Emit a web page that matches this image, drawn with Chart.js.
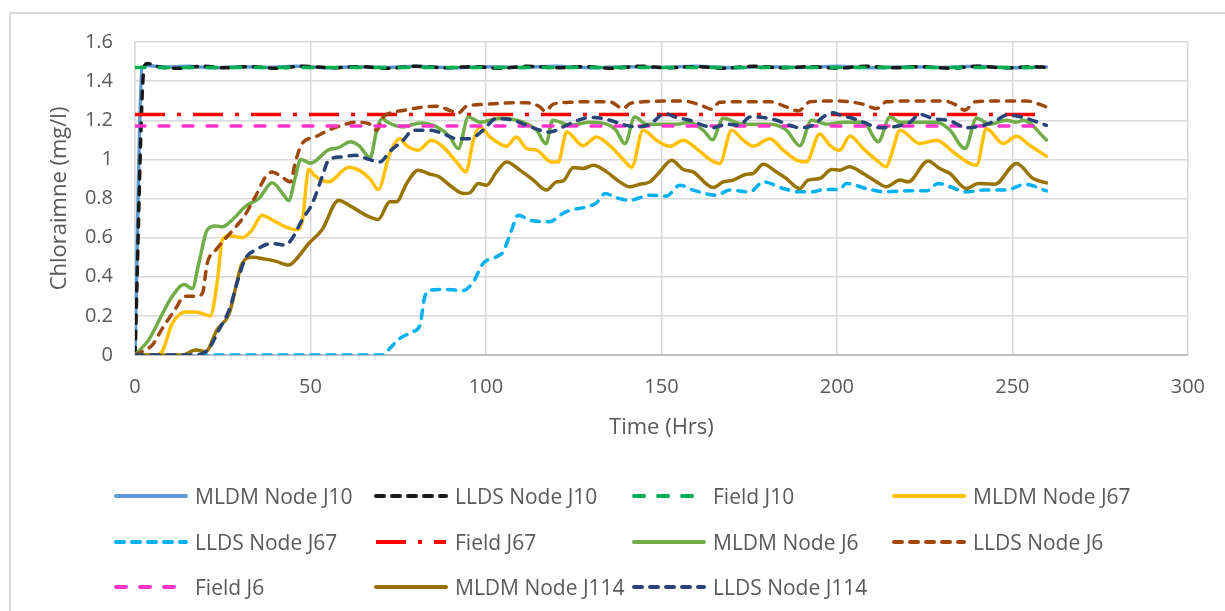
<!DOCTYPE html>
<html><head><meta charset="utf-8">
<script src="https://cdn.jsdelivr.net/npm/chart.js@4.4.1/dist/chart.umd.min.js"></script>
<style>
html,body{margin:0;padding:0;background:#fff;overflow:hidden;}
#wrap{position:relative;width:1225px;height:611px;overflow:hidden;}
#frame{position:absolute;left:9px;top:12px;width:1400px;height:800px;border:2px solid #d9d9d9;box-sizing:border-box;}
#c{position:absolute;left:0;top:0;}
#legend{position:absolute;left:0;top:0;width:1225px;height:611px;font-family:'Open Sans',sans-serif;font-size:21px;color:#595959;}
.item{position:absolute;height:30px;display:flex;align-items:center;white-space:nowrap;}
.item svg{margin-right:7px;}
</style></head>
<body>
<div id="wrap">
<div id="frame"></div>
<canvas id="c" width="1225" height="611"></canvas>
<div id="legend"></div>
</div>
<script>
// ---- data ----
const seriesNames = ['MLDM Node J10','LLDS Node J10','Field J10','MLDM Node J67','LLDS Node J67','Field J67','MLDM Node J6','LLDS Node J6','Field J6','MLDM Node J114','LLDS Node J114'];
const xTickLabels = ['0','50','100','150','200','250','300'];
const yTickLabels = ['0','0.2','0.4','0.6','0.8','1','1.2','1.4','1.6'];

const tMldmJ10 = [0,2,3.5,8,15,22,30,38,46,55,63,72,80,90,100,110,120,130,140,150,160,170,180,190,200,210,220,230,240,250,259.7];
const mldmJ10  = [0,1.47,1.48,1.472,1.476,1.468,1.474,1.47,1.476,1.468,1.474,1.47,1.476,1.468,1.474,1.47,1.476,1.468,1.474,1.47,1.476,1.468,1.474,1.47,1.476,1.468,1.474,1.47,1.476,1.468,1.472];
const tLldsJ10 = [0,2.6,3.5,7,13,19,26,33,40,48,56,64,72,80,88,96,104,112,120,128,136,144,152,160,168,176,184,192,200,208,216,224,232,240,248,256,259.7];
const lldsJ10  = [0,1.47,1.49,1.472,1.466,1.476,1.468,1.474,1.466,1.476,1.468,1.474,1.466,1.476,1.468,1.474,1.466,1.476,1.468,1.474,1.466,1.476,1.468,1.474,1.466,1.476,1.468,1.474,1.466,1.476,1.468,1.474,1.466,1.476,1.468,1.474,1.47];
const tField = [0,259.7];
const fieldJ10 = [1.47,1.47];
const fieldJ67 = [1.23,1.23];
const fieldJ6  = [1.17,1.17];

const tMldmJ67 = [0,5.9,7.8,10.6,14.4,17.3,21.5,23.4,24.9,26.8,30.6,33.4,36.2,39.1,42.9,45.7,47.6,49.5,51,55.2,60.9,63.8,67,69.3,72.6,75.5,77.4,80.7,84.5,87.8,91.6,94.3,96.4,98.3,101.1,105.9,108.7,111.6,114.4,118.7,120.6,123,127.7,131.5,135.3,139.1,141.5,144.8,148.6,152.4,156.2,160,163.8,166.6,170,173.3,176.1,180.9,184.7,188.5,191.3,195.1,198,200.8,203.7,207.5,211.3,214.1,215.6,218,223.6,228.4,233.1,237.9,239.8,242.6,247.4,251.2,254.9,259.7];
const mldmJ67  = [0,0,0.02,0.16,0.22,0.22,0.2,0.37,0.59,0.61,0.6,0.64,0.715,0.69,0.655,0.64,0.68,0.95,0.92,0.885,0.96,0.945,0.9,0.846,1.03,1.106,1.07,1.047,1.098,1.064,0.987,0.936,1.098,1.166,1.115,1.067,1.115,1.055,1.047,0.987,0.987,1.14,1.07,1.115,1.07,1.0,0.96,1.149,1.098,1.067,1.098,1.055,1.0,0.979,1.149,1.098,1.067,1.106,1.047,0.996,0.987,1.13,1.072,1.047,1.12,1.055,0.996,0.962,1.03,1.149,1.081,1.098,1.038,0.979,0.97,1.157,1.081,1.118,1.072,1.016];

const tLldsJ67 = [0,70.8,72.6,75.5,79.3,81.2,82.6,84.5,88.8,93.5,96.4,99.2,103,104.9,107.3,109.2,112.5,118.2,121.1,124,128.7,131.5,134,137,141,146.7,151.4,155.2,159,165.7,169.5,175.2,179,184.7,189.4,193.2,196.1,200.8,202.7,208.4,214.1,219.8,225.5,228.9,232.2,236.9,241.7,248.3,253.6,259.7];
const lldsJ67  = [0,0,0.034,0.085,0.12,0.153,0.3,0.332,0.335,0.329,0.374,0.468,0.502,0.528,0.638,0.715,0.689,0.681,0.715,0.74,0.757,0.778,0.826,0.805,0.791,0.817,0.812,0.868,0.843,0.817,0.843,0.834,0.885,0.851,0.834,0.834,0.846,0.846,0.877,0.851,0.834,0.839,0.839,0.877,0.86,0.834,0.843,0.843,0.873,0.839];

const tMldmJ6 = [0,4,7.8,10.6,14,16.3,18.2,20.6,23,24.9,27.7,31.5,35.3,39.1,41.9,43.8,45.7,47.2,50,55.2,58,61.4,63.8,67,69,70.5,72,76.4,81.2,86,89.7,92.1,95,98.3,104,110.6,114.4,117.1,119,124,129.6,134.4,137,139.6,142.4,145.7,154.3,158,162.4,164.5,167.6,173.3,180.9,185.6,189.4,192.8,197,201.8,207.5,211.8,215.1,218,228.4,232.2,236.5,239.8,243.6,248.3,251.2,253.1,259.7];
const mldmJ6  = [0,0.08,0.21,0.3,0.36,0.34,0.47,0.64,0.66,0.655,0.69,0.76,0.8,0.88,0.83,0.79,0.91,1.0,0.98,1.05,1.06,1.09,1.07,1.01,1.16,1.21,1.19,1.166,1.186,1.166,1.115,1.055,1.217,1.19,1.21,1.19,1.15,1.08,1.2,1.175,1.19,1.18,1.15,1.08,1.217,1.18,1.18,1.19,1.14,1.1,1.21,1.18,1.18,1.15,1.07,1.2,1.18,1.19,1.19,1.09,1.217,1.19,1.19,1.15,1.055,1.21,1.18,1.2,1.19,1.2,1.1];

const tLldsJ6 = [0,3,4.9,7.8,11.6,14,17.3,19.2,20.6,23,25.8,28.7,31,34.3,37.2,39.1,41.9,44.3,45.7,47.6,51.4,55.2,59,62.8,66.6,68.9,70.8,72.6,76.4,81.2,86,89.7,92.1,94.5,98.3,103,107.8,111.6,115.4,116.8,119.2,123.9,129.6,135.3,139.1,141,144.8,154.3,158.1,161.9,164.3,166.6,173.3,180.9,185.6,189,192.3,199.9,207.5,211.3,214.1,222.7,230.3,234.1,236.5,239.3,247.4,254,259.7];
const lldsJ6  = [0,0.026,0.05,0.136,0.238,0.3,0.3,0.315,0.47,0.536,0.596,0.655,0.706,0.81,0.91,0.936,0.91,0.885,0.987,1.08,1.115,1.149,1.174,1.19,1.183,1.149,1.217,1.237,1.25,1.265,1.272,1.25,1.237,1.272,1.28,1.285,1.289,1.289,1.268,1.246,1.282,1.292,1.295,1.294,1.26,1.285,1.294,1.299,1.294,1.272,1.256,1.292,1.295,1.295,1.268,1.248,1.294,1.299,1.282,1.26,1.294,1.299,1.299,1.277,1.251,1.294,1.299,1.299,1.268];

const tMldmJ114 = [0,13.5,17.3,20.1,23.4,26.8,30.6,33.4,37.2,40,43.8,45.7,49.5,53.3,58,61.8,65.7,69.3,72.6,74.5,77.4,80.7,84.1,86.4,89.7,93.5,95.4,97.8,100.2,103,105.9,109.7,113.5,117.3,120.1,122,124.9,127.7,130.6,134.4,138.1,141,143.8,146.7,149.5,152.9,156.2,159,164.7,167.6,170.4,174.2,176.1,179,182.8,185.6,189.4,191.8,195.1,198.5,200.8,203.5,207.5,211.3,214.1,218,220.3,226,229.3,232.2,236.9,240.3,245,251.2,255.9,259.7];
const mldmJ114  = [0,0,0.026,0.017,0.13,0.21,0.47,0.5,0.49,0.48,0.46,0.485,0.57,0.64,0.79,0.757,0.715,0.693,0.783,0.783,0.877,0.945,0.924,0.914,0.868,0.826,0.829,0.877,0.868,0.936,0.987,0.945,0.894,0.843,0.885,0.89,0.958,0.953,0.97,0.936,0.885,0.86,0.873,0.885,0.936,0.996,0.948,0.936,0.856,0.885,0.894,0.924,0.928,0.975,0.936,0.902,0.851,0.894,0.902,0.948,0.945,0.962,0.928,0.885,0.86,0.894,0.885,0.992,0.953,0.928,0.851,0.877,0.873,0.979,0.902,0.88];

const tLldsJ114 = [0,17.3,21.1,23.9,26.8,29.6,31.5,34.3,39.1,42.9,44.8,47.6,50.5,53.3,55.2,59,62.8,66.6,69.8,72.6,76.4,79.3,84,87.8,91.6,95.4,99.2,103,107.8,111.6,115.4,118.2,122,125.8,129.6,133.4,135.3,140,142.9,146.7,151,154.3,158.1,161.9,164.7,168.5,172.3,175.2,179,182.8,186.6,189.4,193.2,196.1,198.9,201.8,203.7,207.5,212.2,216,220.8,223.6,227.4,232.2,236.9,241.7,245.5,248.3,253.1,259.7];
const lldsJ114  = [0,0,0.034,0.128,0.23,0.4,0.494,0.536,0.57,0.562,0.596,0.69,0.774,0.91,0.996,1.013,1.021,1.0,0.987,1.04,1.098,1.149,1.149,1.132,1.106,1.106,1.149,1.209,1.2,1.174,1.149,1.14,1.166,1.197,1.214,1.209,1.2,1.174,1.166,1.18,1.234,1.214,1.2,1.174,1.162,1.18,1.174,1.217,1.214,1.2,1.174,1.162,1.174,1.217,1.238,1.22,1.214,1.19,1.162,1.166,1.19,1.23,1.209,1.197,1.162,1.174,1.2,1.226,1.214,1.174];

// ---- styling ----
const FONT = "'Open Sans', sans-serif";
const TXT = '#595959';
const LLDS_DASH = [8, 8];
const FIELD_DASH = [10, 14];
const DASHDOT = [30, 12, 4, 12];
const styles = [
  {c:'#5b9bd5', dash:[], cap:'round'},
  {c:'#1a1a1a', dash:LLDS_DASH, cap:'round'},
  {c:'#00b050', dash:FIELD_DASH, cap:'round'},
  {c:'#ffc000', dash:[], cap:'round'},
  {c:'#00b0f0', dash:LLDS_DASH, cap:'round'},
  {c:'#ff0000', dash:DASHDOT, cap:'butt'},
  {c:'#70ad47', dash:[], cap:'round'},
  {c:'#9e480e', dash:LLDS_DASH, cap:'round'},
  {c:'#ff33cc', dash:FIELD_DASH, cap:'round'},
  {c:'#997300', dash:[], cap:'round'},
  {c:'#264478', dash:LLDS_DASH, cap:'round'}
];
const pairs = [
  [tMldmJ10, mldmJ10],[tLldsJ10, lldsJ10],[tField, fieldJ10],
  [tMldmJ67, mldmJ67],[tLldsJ67, lldsJ67],[tField, fieldJ67],
  [tMldmJ6, mldmJ6],[tLldsJ6, lldsJ6],[tField, fieldJ6],
  [tMldmJ114, mldmJ114],[tLldsJ114, lldsJ114]
];
const datasets = pairs.map((p, i) => ({
  label: seriesNames[i],
  data: p[0].map((t, k) => ({x: t, y: p[1][k]})),
  showLine: true,
  borderColor: styles[i].c,
  backgroundColor: styles[i].c,
  borderWidth: 3.5,
  borderDash: styles[i].dash,
  borderCapStyle: styles[i].cap,
  borderJoinStyle: 'round',
  cubicInterpolationMode: 'monotone',
  pointRadius: 0,
  pointHoverRadius: 0,
  fill: false,
  order: pairs.length - i
}));

new Chart(document.getElementById('c').getContext('2d'), {
  type: 'scatter',
  data: {datasets},
  options: {
    responsive: false,
    animation: false,
    layout: {padding: {left: 0, top: 42, right: 36, bottom: 166}},
    plugins: {legend: {display: false}, tooltip: {enabled: false}},
    scales: {
      x: {
        type: 'linear', min: 0, max: 300,
        ticks: {stepSize: 50, color: TXT, font: {family: FONT, size: 20}, padding: 20, maxRotation: 0,
          callback: (v) => xTickLabels[Math.round(v / 50)]},
        grid: {color: '#d9d9d9', lineWidth: 1.5, drawTicks: false},
        border: {color: '#bfbfbf', width: 2},
        title: {display: true, text: 'Time (Hrs)', color: TXT, font: {family: FONT, size: 22}, padding: {top: 0, bottom: 4}},
        afterFit: (s) => { s.height = 90; }
      },
      y: {
        min: 0, max: 1.6,
        ticks: {stepSize: 0.2, color: TXT, font: {family: FONT, size: 20}, padding: 22,
          callback: (v) => yTickLabels[Math.round(v * 5)]},
        grid: {color: '#d9d9d9', lineWidth: 1.5, drawTicks: false},
        border: {color: '#d9d9d9', width: 1.5},
        title: {display: true, text: 'Chloraimne (mg/l)', color: TXT, font: {family: FONT, size: 22}, padding: {top: 47, bottom: 0}},
        afterFit: (s) => { s.width = 135; }
      }
    }
  }
});

// ---- legend (4 columns grid, as in the reference) ----
const colX = [114, 374, 632, 892];
const rowY = [496, 542, 587];
const leg = document.getElementById('legend');
seriesNames.forEach((name, i) => {
  const col = i % 4, row = Math.floor(i / 4);
  const el = document.createElement('div');
  el.className = 'item';
  el.style.left = colX[col] + 'px';
  el.style.top = (rowY[row] - 15) + 'px';
  const st = styles[i];
  const dash = st.dash.length ? st.dash.join(',') : 'none';
  el.innerHTML = '<svg width="74" height="10"><line x1="2" y1="5" x2="72" y2="5" stroke="' + st.c +
    '" stroke-width="4" stroke-dasharray="' + dash + '" stroke-linecap="' + st.cap + '"/></svg>';
  const span = document.createElement('span');
  span.textContent = name;
  el.appendChild(span);
  leg.appendChild(el);
});
</script>
</body></html>
